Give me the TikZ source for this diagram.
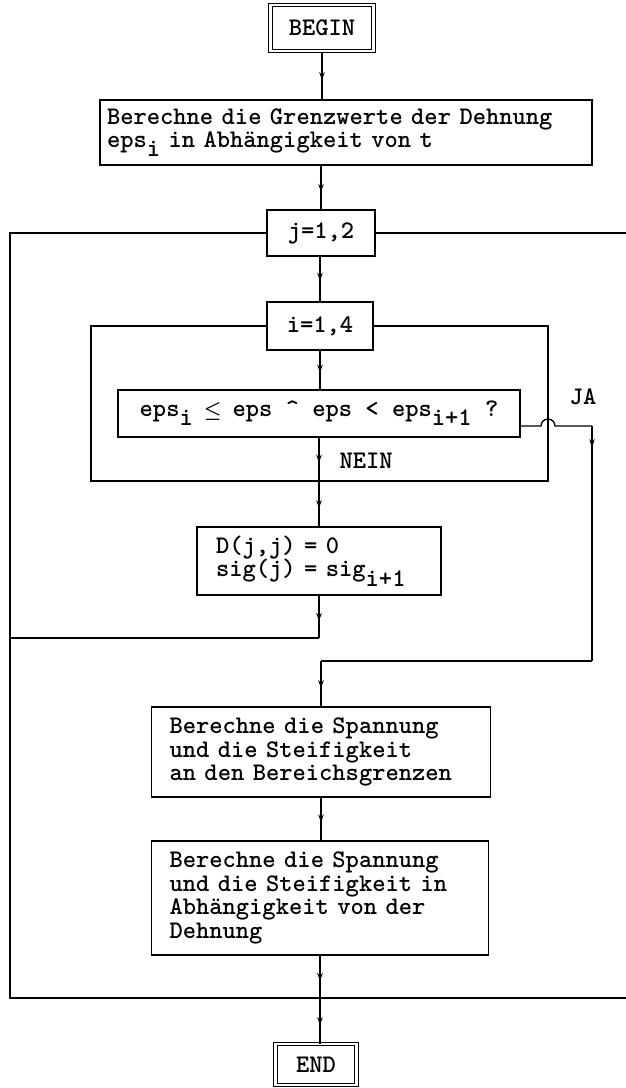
\documentclass[tikz,border=0pt]{standalone}
\usepackage{graphicx}
\usetikzlibrary{arrows.meta,decorations.markings}
\newcommand{\sbx}[1]{\raisebox{-0.36em}{#1}}
\newcommand{\cle}{\makebox[0.525em]{\scalebox{0.8}{$\boldsymbol{\leq}$}}}
\usepackage{amsmath}
\begin{document}
\begin{tikzpicture}[x=1pt,y=-1pt,
  every node/.style={font=\ttfamily\bfseries\fontsize{25.3}{23.5}\selectfont},
  box/.style={draw, line width=1.3pt, inner ysep=0pt, align=left},
  termbox/.style={draw, double, double distance=2.2pt, line width=1pt, inner sep=0pt, align=center},
  ln/.style={line width=1.3pt},
  mida/.style={postaction={decorate}, decoration={markings, mark=at position #1 with {\arrow{Stealth[length=8pt,width=5.5pt]}}}}
]
\useasboundingbox[fill=white] (0,0) rectangle (626,1088);

% nodes
\node[termbox, minimum width=103pt, minimum height=46pt] (begin) at (322,28) {BEGIN};
\node[box, text width=478pt, inner xsep=7pt, minimum height=65pt] (calc) at (346,132.5)
  {Berechne die Grenzwerte der Dehnung\\eps\sbx{i} in Abhängigkeit von t};
\node[box, align=center, minimum width=108pt, minimum height=46pt] (jl) at (321,233) {j=1,2};
\node[box, align=center, minimum width=106pt, minimum height=48pt] (il) at (320,326) {i=1,4};
\node[box, align=center, minimum width=402pt, minimum height=47pt] (dec) at (319,413.5)
  {eps\sbx{i} \cle{} eps \textasciicircum{} eps < eps\sbx{i+1} ?};
\node[box, text width=206pt, inner xsep=19pt, minimum height=68pt] (dd) at (319,561)
  {D(j,j) = 0\\sig(j) = sig\sbx{i+1}};
\node[box, text width=303pt, inner xsep=18pt, minimum height=90pt] (sp1) at (321,752)
  {Berechne die Spannung\\und die Steifigkeit\\an den Bereichsgrenzen};
\node[box, text width=301pt, inner xsep=18pt, minimum height=114pt] (sp2) at (320,898)
  {Berechne die Spannung\\und die Steifigkeit in\\Abhängigkeit von der\\Dehnung};
\node[termbox, minimum width=81pt, minimum height=41pt] (fin) at (316,1064.5) {END};

\node (ja) at (583,397) {JA};
\node[anchor=west] (nein) at (336,461) {NEIN};

% helper coordinates
\coordinate (jtl) at (10,233);
\coordinate (jbl) at (10,998);
\coordinate (jbr) at (626,998);
\coordinate (jtr) at (626,233);
\coordinate (itl) at (91,326);
\coordinate (ibl) at (91,481);
\coordinate (ibr) at (548,481);
\coordinate (itr) at (548,326);
\coordinate (icross) at (dec.south |- ibl);
\coordinate (jret) at (dd.south |- 0,638);
\coordinate (jretl) at (jtl |- jret);
\coordinate (jaout) at (dec.east |- 0,426);
\coordinate (hopa) at (541,426);
\coordinate (jaright) at (592,426);
\coordinate (jadown) at (592,661);
\coordinate (jajoin) at (sp1.north |- jadown);
\coordinate (bcross) at (sp2.south |- jbl);

% loops
\draw[ln] (jl.west) -- (jtl) -- (jbl) -- (jbr);
\draw[ln] (jl.east) -- (jtr);
\draw[ln] (il.west) -- (itl) -- (ibl) -- (ibr) -- (itr) -- (il.east);

% main flow
\draw[ln, mida=0.6] (begin.south) -- (begin.south |- calc.north);
\draw[ln, mida=0.6] (jl.north |- calc.south) -- (jl.north);
\draw[ln, mida=0.55] (jl.south) -- (il.north |- jl.south) -- (il.north);
\draw[ln, mida=0.57] (il.south) -- (dec.north -| il.south);
\draw[ln, mida=0.58] (dec.south) -- (icross);
\draw[ln, mida=0.6] (icross) -- (dd.north);
\draw[ln, mida=0.6] (dd.south) -- (jret);
\draw[ln] (jret) -- (jretl);

% JA branch
\draw[ln] (jaout) -- (hopa) arc[start angle=180, end angle=360, radius=7] -- (jaright);
\draw[ln, mida=0.09] (jaright) -- (jadown);
\draw[ln] (jadown) -- (jajoin);
\draw[ln, mida=0.6] (jajoin) -- (sp1.north);

\draw[ln, mida=0.58] (sp1.south) -- (sp1.south |- sp2.north);
\draw[ln, mida=0.6] (sp2.south) -- (bcross);
\draw[ln, mida=0.6] (bcross) -- (fin.north -| bcross);
\end{tikzpicture}
\end{document}
